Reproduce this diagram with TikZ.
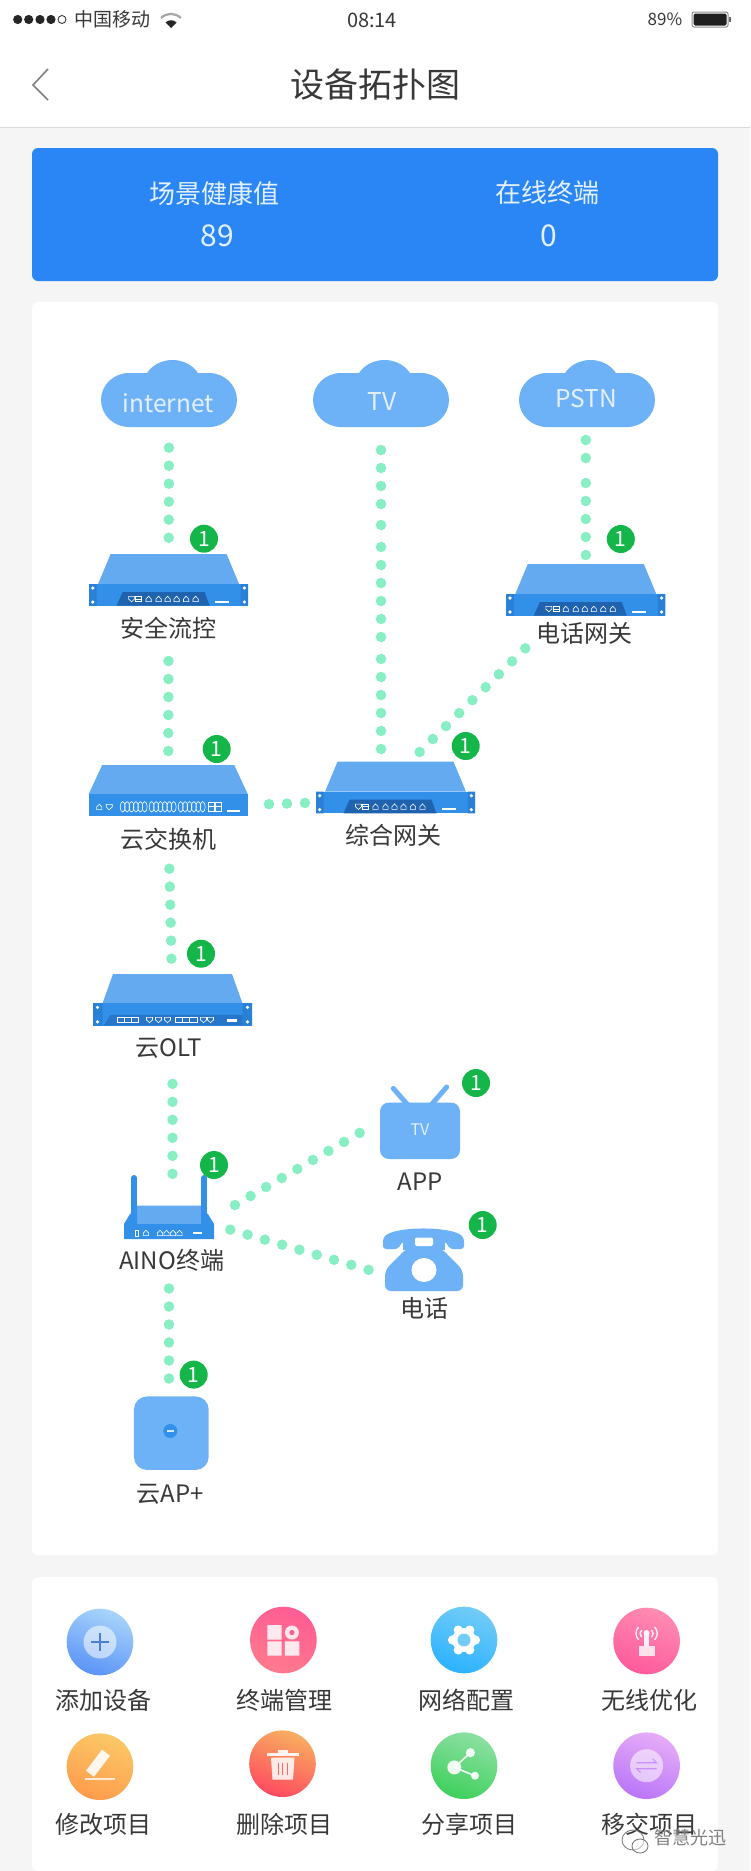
\documentclass[tikz,border=0pt]{standalone}
\usepackage{fontspec}
\usetikzlibrary{calc,shapes.geometric}
\setmainfont{Noto Sans CJK SC}
\newcommand{\fs}[1]{\fontsize{#1}{#1}\selectfont}
\definecolor{pagebg}{HTML}{F5F5F5}
\definecolor{cardblue}{HTML}{2A86F5}
\definecolor{cloudblue}{HTML}{6DB1F7}
\definecolor{devtop}{HTML}{64AAF1}
\definecolor{devmid}{HTML}{3290E8}
\definecolor{devear}{HTML}{2A7FD6}
\definecolor{devdark}{HTML}{1F62AE}
\definecolor{dotgreen}{HTML}{88EEC4}
\definecolor{badgegreen}{HTML}{14B64A}
\definecolor{labelink}{HTML}{383838}
\definecolor{softwhite}{HTML}{E4F0FF}
\tikzset{
  anchorbox/.style={inner sep=0pt,outer sep=0pt,minimum width=#1},
  dotlink/.style={dotgreen,line width=10.5pt,line cap=round,dash pattern=on 0pt off 18pt},
  badge/.style={circle,fill=badgegreen,text=white,inner sep=0pt,minimum size=28pt,font=\fs{21}},
  devlabel/.style={text=labelink,inner sep=0pt,font=\fs{24}},
  menulabel/.style={text=labelink,inner sep=0pt,font=\fs{24}},
  cloudlabel/.style={text=softwhite,inner sep=0pt,font=\fs{24.5}},
  porticon/.style={white,line width=.6pt},
}
% cloud, origin at bottom centre
\newcommand{\cloudshape}[2]{%
  \begin{scope}[shift={(#1,#2)}]
    \fill[cloudblue] (-40,-27) ellipse [x radius=28pt,y radius=27pt]
      (40,-27) ellipse [x radius=28pt,y radius=27pt]
      (3.5,-42) ellipse [x radius=29pt,y radius=25pt]
      (-40,-54) rectangle (40,0);
  \end{scope}}
\newcommand{\housep}[2]{\draw[porticon] (#1-2.6,#2+2.6) -- (#1-2.6,#2) -- (#1,#2-2.8) -- (#1+2.6,#2) -- (#1+2.6,#2+2.6) -- cycle;}
\newcommand{\shieldp}[2]{\draw[porticon] (#1-3,#2-2.6) -- (#1+3,#2-2.6) -- (#1+3,#2) -- (#1,#2+2.8) -- (#1-3,#2) -- cycle;}
\newcommand{\rackears}{%
  \fill[devmid] (-79.5,0) rectangle (79.5,21.7);
  \fill[devear] (-79.5,0) rectangle (-72,21.7) (72,0) rectangle (79.5,21.7);
  \fill[white] (-75.8,4) circle (1.8pt) (-75.8,18) circle (1.8pt) (75.8,4) circle (1.8pt) (75.8,18) circle (1.8pt);}
% gateway, origin at rack top centre
\newcommand{\gateway}[2]{%
  \begin{scope}[shift={(#1,#2)}]
    \fill[devtop] (-58,-30) -- (58,-30) -- (70.5,0) -- (-70.5,0) -- cycle;
    \rackears
    \fill[devdark] (-52,21.7) -- (-46,8) -- (36,8) -- (41,21.7) -- cycle;
    \shieldp{-37}{15}
    \draw[porticon] (-33,12.4) rectangle (-27,17.6) (-33,15) -- (-27,15);
    \foreach \px in {-20,-10,-1,8,17.5,27}{\housep{\px}{15}}
    \fill[white] (46,16.5) rectangle (60,18.5);
  \end{scope}}
% switch
\newcommand{\switchdev}[2]{%
  \begin{scope}[shift={(#1,#2)}]
    \fill[devtop] (-66,-29) -- (66,-29) -- (79.5,0) -- (-79.5,0) -- cycle;
    \fill[devmid] (-79.5,0) rectangle (79.5,21.7);
    \housep{-69}{13}\shieldp{-59}{13}
    \foreach \gx in {-48,-19,10}{\foreach \st in {0,1,...,5}{\draw[porticon] (\gx+2.5+\st*4.4,12.8) ellipse [x radius=2.5pt,y radius=5.2pt];}}
    \draw[porticon] (40,8.5) rectangle (46,17) (47,8.5) rectangle (53,17) (40,12.7) -- (53,12.7);
    \fill[white] (59,15.5) rectangle (72,18);
  \end{scope}}
% OLT
\newcommand{\oltdev}[2]{%
  \begin{scope}[shift={(#1,#2)}]
    \fill[devtop] (-59.5,-29.4) -- (59.5,-29.4) -- (70,0) -- (-70,0) -- cycle;
    \fill[devmid] (-79.5,0) rectangle (79.5,22.2);
    \fill[devear] (-79.5,0) rectangle (-70,22.2) (70,0) rectangle (79.5,22.2);
    \fill[devear!70!devdark] (-69,22.2) -- (-62,11.5) -- (70,11.5) -- (70,22.2) -- cycle;
    \fill[white] (-75,4) circle (1.8pt) (-75,18.5) circle (1.8pt) (75,4) circle (1.8pt) (75,18.5) circle (1.8pt);
    \draw[porticon] (-55,14) rectangle (-34,19) (-48,14) -- (-48,19) (-41,14) -- (-41,19);
    \foreach \px in {-23,-14,-5,31,38}{\shieldp{\px}{16.5}}
    \draw[porticon] (3,14) rectangle (25,19) (10,14) -- (10,19) (17,14) -- (17,19);
    \fill[white] (54,16) rectangle (64,18.5);
  \end{scope}}
% menu ball: x y topcolor bottomcolor
\newcommand{\menuball}[4]{\shade[top color=#3,bottom color=#4,shading angle=-20] (#1,#2) circle (33.3pt);}
\definecolor{mAa}{HTML}{A8D4FB}\definecolor{mAb}{HTML}{5A94F7}
\definecolor{mBa}{HTML}{FF5C94}\definecolor{mBb}{HTML}{FF7A8C}
\definecolor{mCa}{HTML}{72CCF6}\definecolor{mCb}{HTML}{2BB2FF}
\definecolor{mDa}{HTML}{FF8CB2}\definecolor{mDb}{HTML}{FF5A9C}
\definecolor{mEa}{HTML}{FBC866}\definecolor{mEb}{HTML}{FE9C4C}
\definecolor{mFa}{HTML}{F8AE60}\definecolor{mFb}{HTML}{FF4A60}
\definecolor{mGa}{HTML}{8CE0A2}\definecolor{mGb}{HTML}{3FD05C}
\definecolor{mHa}{HTML}{E6ACF7}\definecolor{mHb}{HTML}{BA76F8}
\begin{document}
\begin{tikzpicture}[x=1pt,y=-1pt]
\useasboundingbox (0,0) rectangle (750,1871);
% page
\fill[pagebg] (0,0) rectangle (750,1871);
\fill[white] (0,0) rectangle (750,127);
\draw[black!15,line width=1pt] (0,127.5) -- (750,127.5);
% status bar
\foreach \sx in {17.7,28.7,40,51}{\fill[black!85] (\sx,19.5) circle (4.6pt);}
\draw[black!85,line width=.8pt] (62,19.5) circle (4pt);
\node[inner sep=0pt,text=labelink,font=\fs{19}] (carrier) at (112.5,19.5) {中国移动};
\draw[black!35,line width=2.2pt] (161,18) arc[start angle=135,end angle=45,radius=14pt];
\fill[black!85] (171,28) -- (165.5,22.5) arc[start angle=135,end angle=45,radius=7.8pt] -- cycle;
\node[inner sep=0pt,text=labelink,font=\fs{20}] (clock) at (372,20) {08:14};
\node[inner sep=0pt,text=labelink,font=\fs{17}] (battpct) at (665,19.5) {89\%};
\draw[black!45,line width=1pt,rounded corners=2pt] (692,12) rectangle (728,27);
\fill[black!88,rounded corners=1.5pt] (693.5,13.5) rectangle (726.5,25.5);
\fill[black!60] (729,17) rectangle (731,22);
% navigation bar
\draw[black!50,line width=1.6pt] (48,69) -- (33,85) -- (48,100);
\node[inner sep=0pt,text=labelink,font=\fs{34}] (pagetitle) at (375,85) {设备拓扑图};
% blue card
\fill[cardblue,rounded corners=6pt] (32,148) rectangle (718,281);
\node[inner sep=0pt,text=softwhite,font=\fs{26}] (healthcap) at (214,193) {场景健康值};
\node[inner sep=0pt,text=softwhite,font=\fs{26}] (onlinecap) at (547,193) {在线终端};
\node[inner sep=0pt,text=softwhite,font=\fs{30}] (healthval) at (217,236) {89};
\node[inner sep=0pt,text=softwhite,font=\fs{30}] (onlineval) at (549,236) {0};
% white cards
\fill[white,rounded corners=6pt] (32,302) rectangle (718,1555);
\fill[white,rounded corners=6pt] (32,1577) rectangle (718,1871);
% cloud shapes
\cloudshape{169}{427}
\cloudshape{381}{427}
\cloudshape{587}{427}
\node[anchorbox=136pt,minimum height=67pt] (cloudi) at (169,393.5) {};
\node[anchorbox=136pt,minimum height=67pt] (cloudt) at (381,393.5) {};
\node[anchorbox=136pt,minimum height=67pt] (cloudp) at (587,393.5) {};
\node[cloudlabel] (cloudiL) at (168,403) {internet};
\node[cloudlabel] (cloudtL) at (382,402) {TV};
\node[cloudlabel] (cloudpL) at (586.5,399) {PSTN};
% devices
\gateway{168.6}{584}
\switchdev{168.2}{794}
\gateway{395.5}{791.7}
\gateway{585.8}{594}
\oltdev{172.5}{1003.4}
% anchors of the racks
\node[anchorbox=159pt,minimum height=21.7pt] (safe) at (168.6,594.85) {};
\node[anchorbox=159pt,minimum height=21.7pt] (swi) at (168.2,804.85) {};
\node[anchorbox=159pt,minimum height=21.7pt] (gw) at (395.5,802.55) {};
\node[anchorbox=159pt,minimum height=21.7pt] (telgw) at (585.8,604.85) {};
\node[anchorbox=159pt,minimum height=22.2pt] (olt) at (172.5,1014.5) {};
% AINO router
\fill[devtop] (132,1205.5) -- (206,1205.5) -- (209,1224) -- (129,1224) -- cycle;
\fill[devmid] (131,1178) rectangle (137,1232);
\fill[devmid] (201,1178) rectangle (207,1232);
\fill[devmid] (134,1178) circle (3pt) (204,1178) circle (3pt);
\fill[devmid] (124,1239) -- (124,1224) -- (130,1214) -- (137,1214) -- (137,1224) -- (201,1224) -- (201,1214) -- (208,1214) -- (214,1224) -- (214,1239) -- cycle;
\begin{scope}[shift={(0,1233)}]
  \draw[porticon] (135,-3) rectangle (138,3);
  \housep{146}{0}
  \housep{160}{0}\housep{166.5}{0}\housep{173}{0}\housep{179.5}{0}
  \fill[white] (193,-1) rectangle (202,1);
\end{scope}
\node[anchorbox=90pt,minimum height=15pt] (aino) at (169,1231.5) {};
% TV icon
\draw[cloudblue,line width=5pt,line cap=round] (407,1104) -- (393.3,1088.4);
\draw[cloudblue,line width=5pt,line cap=round] (432,1104) -- (446.7,1087);
\node[anchorbox=80pt,minimum height=56.5pt,fill=cloudblue,rounded corners=9pt] (tvapp) at (420,1130.75) {};
\node[inner sep=0pt,text=softwhite,font=\fs{16}] (tvappL) at (420,1130) {TV};
% telephone icon
\fill[cloudblue,rounded corners=3pt] (383,1249) -- (383,1238) .. controls (395,1226) and (452,1226) .. (464,1238) -- (464,1249) -- (450,1249) -- (445,1241) -- (403,1241) -- (398,1249) -- cycle;
\fill[cloudblue] (403,1240) rectangle (445,1250);
\fill[cloudblue,rounded corners=6pt] (385,1291) -- (385,1270) -- (407,1248) -- (441,1248) -- (463,1270) -- (463,1291) -- cycle;
\fill[white,rounded corners=2pt] (415,1237.5) rectangle (433,1246);
\fill[white] (424,1270) ellipse [x radius=12.5pt,y radius=12pt];
\node[anchorbox=81pt,minimum height=62pt] (phone) at (423.5,1260) {};
% AP
\node[anchorbox=74.7pt,minimum height=73.5pt,fill=cloudblue,rounded corners=13pt] (apdev) at (171.3,1433.2) {};
\fill[devmid] (170.3,1431) circle (7pt);
\fill[white!80!devmid] (166.5,1430.3) rectangle (174,1431.7);
% connectors
\draw[dotlink,shorten <=20.7pt,shorten >=45.5pt] (cloudi.south) -- (safe.north);
\draw[dotlink,shorten <=55.3pt,shorten >=42.5pt] (safe.south) -- (swi.north);
\draw[dotlink,shorten <=21.3pt,shorten >=10.5pt] (swi.east) -- (gw.west);
\draw[dotlink,shorten <=53pt,shorten >=44.5pt] (swi.south) -- (olt.north);
\draw[dotlink,shorten <=58.2pt,shorten >=50pt] (olt.south) -- (olt.south |- aino.north);
\draw[dotlink,shorten <=49.5pt,shorten >=17pt] (aino.south) -- (aino.south |- apdev.north);
\draw[dotlink,dash pattern=on 0pt off 18pt on 0pt off 18pt on 0pt off 18pt on 0pt off 21pt on 0pt off 22pt on 0pt off 18pt on 0pt off 18pt on 0pt off 18pt on 0pt off 18pt on 0pt off 18pt on 0pt off 22pt on 0pt off 18pt on 0pt off 18pt on 0pt off 18pt on 0pt off 18pt on 0pt off 18pt on 0pt off 100pt,shorten <=23pt,shorten >=42pt] (cloudt.south) -- (cloudt.south |- gw.north);
\draw[dotlink,dash pattern=on 0pt off 18pt on 0pt off 18pt on 0pt off 18pt on 0pt off 18pt on 0pt off 25pt on 0pt off 18pt on 0pt off 100pt,shorten <=39pt,shorten >=13pt] (telgw.north) -- (telgw.north |- cloudp.south);
\draw[dotlink,dash pattern=on 0pt off 18.5pt] ($(gw.north)+(24.1,-39.7)$) -- ($(telgw.south)+(-60.3,32.4)$);
\draw[dotlink] ($(aino.north east)+(21,-19)$) -- ($(tvapp.west)+(-19.8,1.8)$);
\draw[dotlink] ($(aino.east)+(16.3,-1.9)$) -- ($(phone.west)+(-14.2,9.9)$);
% labels
\node[devlabel] (safeL) at (168.6,628.7) {安全流控};
\node[devlabel] (swiL) at (168.6,839) {云交换机};
\node[devlabel] (gwL) at (393.5,835.7) {综合网关};
\node[devlabel] (telgwL) at (584.5,633) {电话网关};
\node[devlabel] (oltL) at (168.7,1048) {云OLT};
\node[devlabel] (ainoL) at (171.7,1260.6) {AINO终端};
\node[devlabel] (appL) at (420,1181.4) {APP};
\node[devlabel] (phoneL) at (424,1308.4) {电话};
\node[devlabel] (apL) at (170,1494) {云AP+};
% badges
\node[badge] (b1) at (204,538.7) {1};
\node[badge] (b2) at (216.7,749) {1};
\node[badge] (b3) at (465.7,746) {1};
\node[badge] (b4) at (620.8,539) {1};
\node[badge] (b5) at (201,953.7) {1};
\node[badge] (b6) at (214,1165) {1};
\node[badge] (b7) at (476,1083) {1};
\node[badge] (b8) at (482.7,1225) {1};
\node[badge] (b9) at (193.7,1374.6) {1};
% menu row 1
\menuball{100}{1642}{mAa}{mAb}
\fill[white,opacity=.55] (100,1642) circle (16.5pt);
\draw[mAb!85!black,line width=1.4pt] (91,1642) -- (109,1642) (100,1633) -- (100,1651);
\menuball{283.4}{1640}{mBa}{mBb}
\begin{scope}[shift={(283.4,1640)}]
  \fill[white,opacity=.85] (-16,-15) rectangle (-1.8,-.3) (-16,1.3) rectangle (-1.8,15.7) (1.4,1.3) rectangle (16,15.7);
  \fill[white,opacity=.85] (8.5,-7.5) circle (7pt);
  \fill[mBa] (8.5,-7.5) circle (2.6pt);
\end{scope}
\menuball{464}{1640}{mCa}{mCb}
\begin{scope}[shift={(464,1640)}]
  \foreach \a in {0,60,...,300}{\fill[white] (\a:11.5pt) circle (4.6pt);}
  \fill[white] (0,0) circle (12pt);
  \fill[mCa] (0,0) circle (6.5pt);
\end{scope}
\menuball{646.6}{1641}{mDa}{mDb}
\begin{scope}[shift={(646.6,1641)}]
  \fill[white,opacity=.8] (-8,5) rectangle (8,15);
  \fill[white,opacity=.9] (-2.2,-8) rectangle (2.2,5);
  \fill[white,opacity=.9] (0,-8) circle (3pt);
  \draw[white,opacity=.9,line width=1.4pt] (-8,-14) arc[start angle=135,end angle=225,radius=9pt] (8,-14) arc[start angle=45,end angle=-45,radius=9pt];
  \draw[white,opacity=.9,line width=1.4pt] (-5,-11) arc[start angle=135,end angle=225,radius=5pt] (5,-11) arc[start angle=45,end angle=-45,radius=5pt];
\end{scope}
% menu row 2
\menuball{100}{1766.7}{mEa}{mEb}
\begin{scope}[shift={(100,1766.7)}]
  \draw[white,opacity=.9,line width=10pt] (-10,7) -- (6,-14);
  \draw[white,opacity=.75,line width=2.4pt] (-15,12) -- (15,12);
\end{scope}
\menuball{282.5}{1763.7}{mFa}{mFb}
\begin{scope}[shift={(282.5,1763.7)}]
  \fill[white,opacity=.9] (-16,-11) rectangle (16,-7.5);
  \fill[white,opacity=.9] (-5,-14) rectangle (5,-10);
  \fill[white,opacity=.85] (-11.5,-6) -- (12,-6) -- (10.5,16) -- (-10,16) -- cycle;
  \draw[mFb!70!mFa,line width=1.2pt] (-4,-1) -- (-4,11) (0.3,-1) -- (0.3,11) (4.6,-1) -- (4.6,11);
\end{scope}
\menuball{464}{1765.7}{mGa}{mGb}
\begin{scope}[shift={(464,1765.7)}]
  \draw[white,opacity=.9,line width=1.6pt] (6.4,-13) -- (-9.7,1.7) -- (11,10);
  \fill[white,opacity=.9] (6.4,-13) circle (4.6pt) (-9.7,1.7) circle (7pt) (11,10) circle (4pt);
\end{scope}
\menuball{646.6}{1765.7}{mHa}{mHb}
\begin{scope}[shift={(646.6,1765.7)}]
  \fill[white,opacity=.55] (0,0) circle (16.5pt);
  \draw[mHb!80!white,line width=1.2pt] (-10,-3) -- (10,-3) -- (6,-7) (10,3) -- (-10,3) -- (-6,7);
\end{scope}
% menu labels
\node[menulabel] (m1) at (103.5,1700) {添加设备};
\node[menulabel] (m2) at (284.8,1700) {终端管理};
\node[menulabel] (m3) at (466.6,1700) {网络配置};
\node[menulabel] (m4) at (649.4,1700) {无线优化};
\node[menulabel] (m5) at (103,1824) {修改项目};
\node[menulabel] (m6) at (284,1824) {删除项目};
\node[menulabel] (m7) at (469,1824) {分享项目};
\node[menulabel] (m8) at (649.4,1824) {移交项目};
% watermark
\begin{scope}[black!55,line width=.8pt]
  \draw (633,1840) ellipse [x radius=11pt,y radius=10pt];
  \draw[fill=white,fill opacity=.5] (640,1846) ellipse [x radius=8pt,y radius=7pt];
\end{scope}
\node[inner sep=0pt,text=black!50,font=\fs{18}] (wm) at (690,1838) {智慧光迅};
\end{tikzpicture}
\end{document}
